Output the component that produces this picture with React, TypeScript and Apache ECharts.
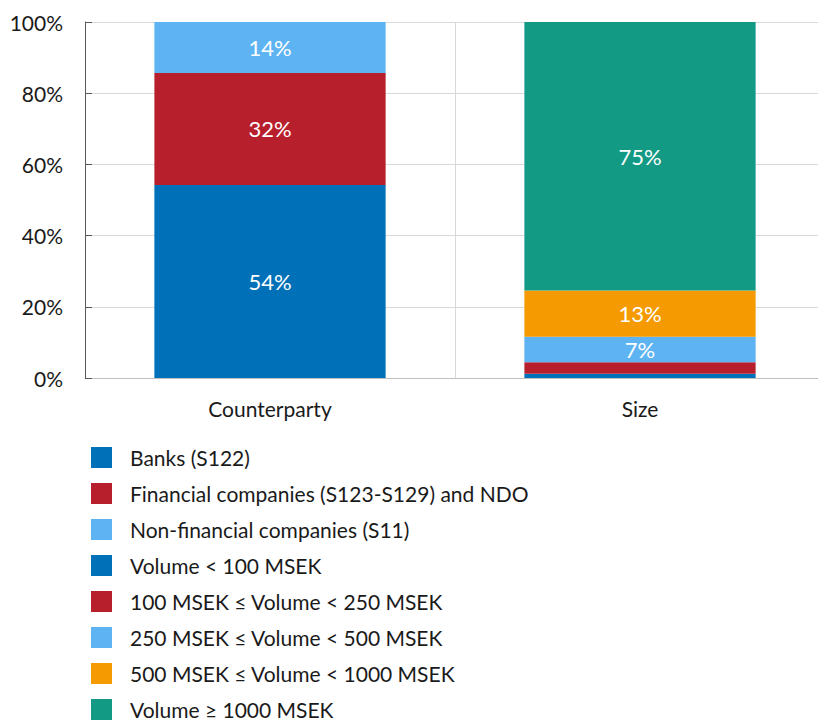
import React, { useEffect, useRef } from "react";
import * as echarts from "echarts";

const categories = ["Counterparty", "Size"];
const yTicks = [0, 20, 40, 60, 80, 100];

const counterpartyNames = [
  "Banks (S122)",
  "Financial companies (S123-S129) and NDO",
  "Non-financial companies (S11)",
];
const counterpartyValues = [54.2, 31.5, 14.3];
const counterpartyColors = ["#0070B8", "#B81F2D", "#5EB3F2"];

const sizeNames = [
  "Volume < 100 MSEK",
  "100 MSEK ≤ Volume < 250 MSEK",
  "250 MSEK ≤ Volume < 500 MSEK",
  "500 MSEK ≤ Volume < 1000 MSEK",
  "Volume ≥ 1000 MSEK",
];
const sizeValues = [1.2, 3.2, 7.2, 13.0, 75.4];
const sizeColors = ["#0070B8", "#B81F2D", "#5EB3F2", "#F59A00", "#129A85"];

const FONT = "Lato, 'Open Sans', 'Noto Sans', sans-serif";

export default function App() {
  const ref = useRef<HTMLDivElement>(null);
  useEffect(() => {
    document.body.style.margin = "0";
    document.body.style.overflow = "hidden";
    const chart = echarts.init(ref.current!, null, { renderer: "svg" });
    const mkSeries = (name: string, value: number, color: string, idx: number) => ({
      name,
      type: "bar",
      stack: "total",
      barWidth: "62.5%",
      data: idx === 0 ? [value, null] : [null, value],
      itemStyle: { color },
      label: {
        show: value >= 5,
        position: "inside",
        color: "#ffffff",
        fontSize: 22,
        fontFamily: FONT,
        formatter: (p: any) => Math.round(p.value) + "%",
      },
    });
    const series = [
      ...counterpartyNames.map((n, i) => mkSeries(n, counterpartyValues[i], counterpartyColors[i], 0)),
      ...sizeNames.map((n, i) => mkSeries(n, sizeValues[i], sizeColors[i], 1)),
    ];
    chart.setOption({
      animation: false,
      textStyle: { fontFamily: FONT },
      grid: { left: 85, top: 22, width: 740, height: 356, containLabel: false },
      xAxis: {
        type: "category",
        data: categories,
        axisLine: { lineStyle: { color: "#BFBFBF" } },
        axisTick: { show: false },
        splitLine: { show: true, lineStyle: { color: "#D9D9D9" } },
        axisLabel: { color: "#1a1a1a", fontSize: 21, margin: 20, fontFamily: FONT },
      },
      yAxis: {
        type: "value",
        min: yTicks[0],
        max: yTicks[yTicks.length - 1],
        interval: 20,
        axisLine: { show: true, lineStyle: { color: "#595959" } },
        axisTick: { show: true, inside: true, length: 7, lineStyle: { color: "#595959" } },
        splitLine: { show: true, lineStyle: { color: "#D9D9D9" } },
        axisLabel: {
          color: "#1a1a1a",
          fontSize: 21,
          margin: 22,
          fontFamily: FONT,
          formatter: (v: number) => v + "%",
        },
      },
      legend: {
        orient: "vertical",
        left: 86,
        top: 442,
        height: 600,
        itemWidth: 21,
        itemHeight: 21,
        itemGap: 15,
        icon: "rect",
        textStyle: {
          fontSize: 21,
          lineHeight: 21,
          color: "#1a1a1a",
          fontFamily: FONT,
          padding: [0, 0, 0, 13],
        },
        data: [...counterpartyNames, ...sizeNames].map((n, i) => ({
          name: n,
          itemStyle: { color: i < 3 ? counterpartyColors[i] : sizeColors[i - 3] },
        })),
      },
      series,
    });
    return () => chart.dispose();
  }, []);
  return <div ref={ref} style={{ width: 832, height: 722 }} />;
}
